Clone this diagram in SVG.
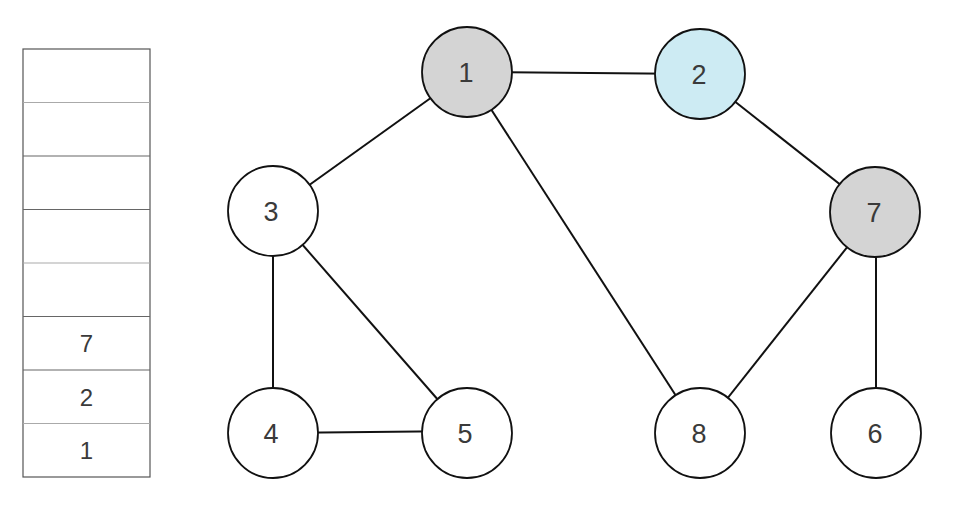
<svg xmlns="http://www.w3.org/2000/svg" width="954" height="509" viewBox="0 0 954 509">
<style>
.cell{fill:#fff;stroke:#555;stroke-width:1.2}
.div{stroke:#666;stroke-width:1.2}
.divl{stroke:#aaa;stroke-width:1.2}
.node{stroke:#111;stroke-width:1.8}
.w{fill:#fff}.g{fill:#d4d4d4}.b{fill:#cdebf3}
.e{stroke:#111;stroke-width:2;fill:none}
text{font-family:"Liberation Sans",Arial,sans-serif;fill:#3a3a3a;text-anchor:middle;dominant-baseline:central}
.nl{font-size:27px}
.sl{font-size:24px}
</style>
<rect width="954" height="509" fill="#fff"/>
<g id="stack">
<rect class="cell" x="23" y="49" width="127" height="428"/>
<line class="divl" x1="23" y1="102.5" x2="150" y2="102.5"/>
<line class="div" x1="23" y1="156" x2="150" y2="156"/>
<line class="div" x1="23" y1="209.5" x2="150" y2="209.5"/>
<line class="divl" x1="23" y1="263" x2="150" y2="263"/>
<line class="div" x1="23" y1="316.5" x2="150" y2="316.5"/>
<line class="div" x1="23" y1="370" x2="150" y2="370"/>
<line class="divl" x1="23" y1="423.5" x2="150" y2="423.5"/>
<text class="sl" x="86.5" y="343">7</text>
<text class="sl" x="86.5" y="397">2</text>
<text class="sl" x="86.5" y="450">1</text>
</g>
<g id="connectors">
<line class="e" x1="467" y1="72" x2="700" y2="74"/>
<line class="e" x1="467" y1="72" x2="273" y2="211"/>
<line class="e" x1="467" y1="72" x2="700" y2="433"/>
<line class="e" x1="700" y1="74" x2="875" y2="212"/>
<line class="e" x1="273" y1="211" x2="273" y2="433"/>
<line class="e" x1="273" y1="211" x2="467" y2="433"/>
<line class="e" x1="273" y1="433" x2="467" y2="431"/>
<line class="e" x1="875" y1="212" x2="700" y2="433"/>
<line class="e" x1="876" y1="212" x2="876" y2="433"/>
</g>
<g id="node1"><circle class="node g" cx="467" cy="72" r="45"/><text class="nl" x="466" y="73">1</text></g>
<g id="node2"><circle class="node b" cx="700" cy="74" r="45"/><text class="nl" x="699" y="75">2</text></g>
<g id="node3"><circle class="node w" cx="273" cy="211" r="45"/><text class="nl" x="271" y="212">3</text></g>
<g id="node7"><circle class="node g" cx="875" cy="212" r="45"/><text class="nl" x="874" y="213">7</text></g>
<g id="node4"><circle class="node w" cx="273" cy="433" r="45"/><text class="nl" x="271" y="434">4</text></g>
<g id="node5"><circle class="node w" cx="467" cy="433" r="45"/><text class="nl" x="465" y="434">5</text></g>
<g id="node8"><circle class="node w" cx="700" cy="433" r="45"/><text class="nl" x="699" y="434">8</text></g>
<g id="node6"><circle class="node w" cx="876" cy="433" r="45"/><text class="nl" x="875" y="434">6</text></g>
</svg>
